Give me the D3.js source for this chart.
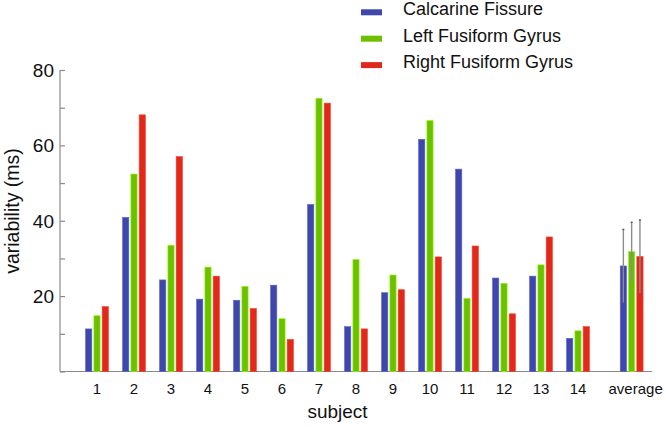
<!DOCTYPE html>
<html>
<head>
<meta charset="utf-8">
<script src="https://cdn.jsdelivr.net/npm/d3@7"></script>
<style>
  body { margin: 0; background: #fff; }
  text { font-family: "Liberation Sans", Arial, sans-serif; fill: #111; }
</style>
</head>
<body>
<svg width="666" height="427"></svg>
<script>
// values
var subjects = ["1","2","3","4","5","6","7","8","9","10","11","12","13","14","average"];
var seriesNames = ["Calcarine Fissure", "Left Fusiform Gyrus", "Right Fusiform Gyrus"];
var calcarine = [11.3, 40.9, 24.3, 19.2, 18.9, 22.9, 44.3, 11.9, 20.9, 61.6, 53.7, 24.8, 25.3, 8.8, 28.0];
var leftFusiform = [14.8, 52.4, 33.5, 27.7, 22.6, 14.0, 72.5, 29.7, 25.6, 66.6, 19.4, 23.4, 28.3, 10.8, 31.8];
var rightFusiform = [17.2, 68.1, 57.0, 25.3, 16.7, 8.5, 71.2, 11.3, 21.7, 30.4, 33.3, 15.3, 35.7, 11.9, 30.5];
var averageError = [9.7, 7.8, 9.7];
var yTicks = [0, 10, 20, 30, 40, 50, 60, 70, 80];
var yTickLabels = ["", "", "20", "", "40", "", "60", "", "80"];

var colors = ["#3f47a8", "#6cc000", "#e1291b"];
var allSeries = [calcarine, leftFusiform, rightFusiform];

var svg = d3.select("svg");

// subjects sit one step apart, the average a little further out
function slot(i) { return i < 14 ? i + 1 : i + 1.45; }

var x = d3.scaleLinear().domain([0, 16]).range([60, 652]);
var y = d3.scaleLinear().domain([0, 80]).range([371.5, 70]);
var inner = d3.scaleBand().domain(seriesNames).range([-11.4, 11.4]).paddingInner(0.25);

// y axis
var yAxis = svg.append("g")
    .attr("transform", "translate(60,0)")
    .call(d3.axisRight(y).tickValues(yTicks).tickSize(5).tickFormat(""));
yAxis.selectAll("path, line").attr("stroke", "#8a8a8a").attr("stroke-width", 1.2);
yAxis.select(".domain").attr("d", "M0," + y(80) + "V" + y(0));

svg.append("g").selectAll("text")
    .data(yTicks)
  .enter().append("text")
    .attr("x", 54)
    .attr("y", function(d) { return y(d); })
    .attr("dy", "0.36em")
    .attr("text-anchor", "end")
    .style("font-size", "19px")
    .text(function(d, i) { return yTickLabels[i]; });

// x axis line
svg.append("line")
    .attr("x1", x(0)).attr("x2", x(16))
    .attr("y1", y(0)).attr("y2", y(0))
    .attr("stroke", "#8a8a8a")
    .attr("stroke-width", 1.2);

// bars
allSeries.forEach(function(vals, s) {
  svg.append("g").selectAll("rect")
      .data(vals)
    .enter().append("rect")
      .attr("x", function(d, i) { return x(slot(i)) + inner(seriesNames[s]); })
      .attr("y", function(d) { return y(d); })
      .attr("width", inner.bandwidth())
      .attr("height", function(d) { return y(0) - y(d); })
      .attr("fill", colors[s])
      .attr("stroke", d3.color(colors[s]).brighter(0.8))
      .attr("stroke-width", 0.6);
});

// error bars on the average group
var avgIndex = subjects.length - 1;
var eb = svg.append("g");
allSeries.forEach(function(vals, s) {
  var cx = x(slot(avgIndex)) + inner(seriesNames[s]) + inner.bandwidth() / 2;
  var m = vals[avgIndex], e = averageError[s];
  eb.append("line")
      .attr("x1", cx).attr("x2", cx)
      .attr("y1", y(m - e)).attr("y2", y(m + e))
      .attr("stroke", "#8c8c8c")
      .attr("stroke-width", 1.4);
  eb.append("line")
      .attr("x1", cx - 1).attr("x2", cx + 1)
      .attr("y1", y(m + e)).attr("y2", y(m + e))
      .attr("stroke", "#555")
      .attr("stroke-width", 1.4);
});

// category labels
svg.append("g").selectAll("text")
    .data(subjects)
  .enter().append("text")
    .attr("x", function(d, i) { return x(slot(i)) + (i === avgIndex ? 4 : 0); })
    .attr("y", 394)
    .attr("text-anchor", "middle")
    .style("font-size", "15px")
    .text(function(d) { return d; });

// axis titles
svg.append("text")
    .attr("x", (x(1) + x(14)) / 2)
    .attr("y", 418)
    .attr("text-anchor", "middle")
    .style("font-size", "19px")
    .text("subject");

svg.append("text")
    .attr("transform", "translate(19,211) rotate(-90)")
    .attr("text-anchor", "middle")
    .style("font-size", "19.5px")
    .text("variability (ms)");

// legend
var legend = svg.append("g").selectAll("g")
    .data(seriesNames)
  .enter().append("g")
    .attr("transform", function(d, i) { return "translate(361," + (12.3 + i * 26.4) + ")"; });

legend.append("rect")
    .attr("x", 0).attr("y", -3)
    .attr("width", 21).attr("height", 6)
    .attr("fill", function(d, i) { return colors[i]; });

legend.append("text")
    .attr("x", 42)
    .attr("y", 3)
    .style("font-size", "18px")
    .text(function(d) { return d; });
</script>
</body>
</html>
